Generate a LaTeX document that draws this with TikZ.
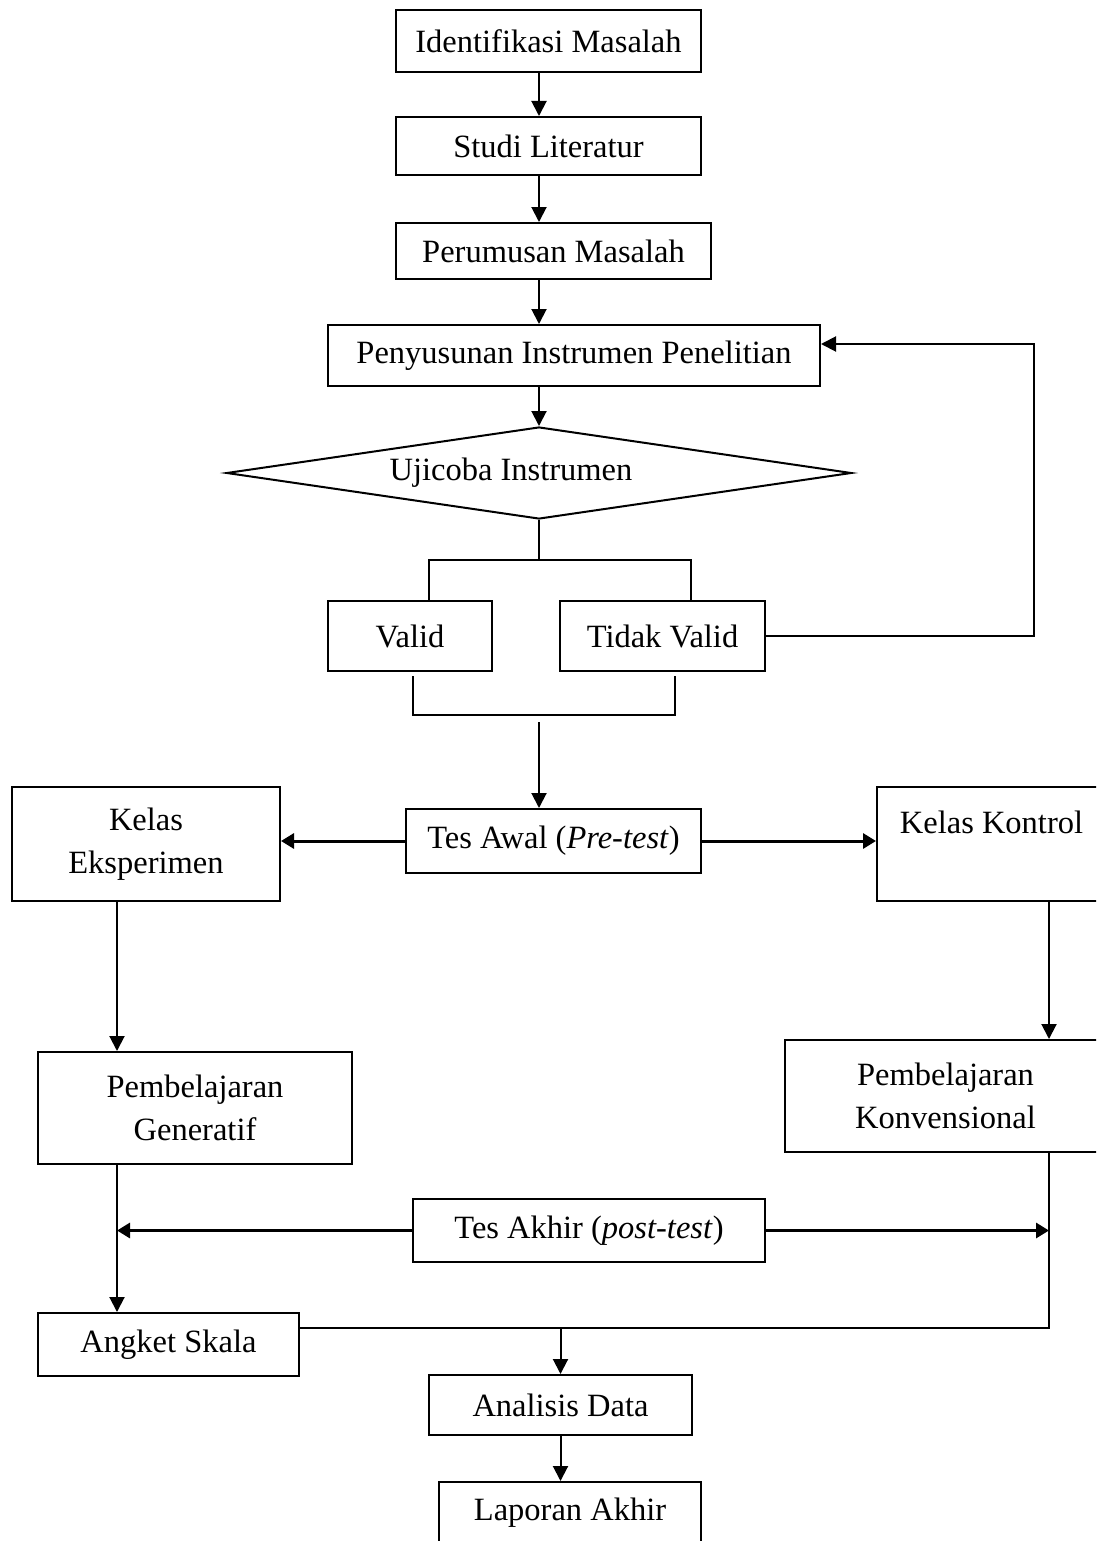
\documentclass[tikz,border=0pt]{standalone}
\usepackage{fontspec}
\setmainfont{Liberation Serif}
\usetikzlibrary{arrows.meta,shapes.geometric}
\begin{document}
\begin{tikzpicture}[x=1pt,y=-1pt,line width=2pt,
	box/.style={draw,rectangle,inner sep=0pt,align=center,font=\fontsize{32.5}{43}\selectfont},
	arr/.style={-{Triangle[length=15pt,width=15pt]}},
	arrw/.style={-{Triangle[length=13pt,width=15pt]},line width=3pt}]
\clip (0,0) rectangle (1096,1541);
\node[box,minimum width=305,minimum height=62] (idm) at (548.5,41) {Identifikasi Masalah};
\node[box,minimum width=305,minimum height=58] (stl) at (548.5,146) {Studi Literatur};
\node[box,minimum width=315,minimum height=56] (prm) at (553.5,251) {Perumusan Masalah};
\node[box,minimum width=492,minimum height=61] (pip) at (574,355.5) {Penyusunan Instrumen Penelitian};
\node[draw,diamond,inner sep=0pt,minimum width=625,minimum height=92] (uji) at (539,473) {};
\node[font=\fontsize{32.5}{43}\selectfont] (ujt) at (511,473) {Ujicoba Instrumen};
\node[box,minimum width=164,minimum height=70] (vld) at (410,636) {Valid};
\node[box,minimum width=205,minimum height=70] (tdv) at (662.5,636) {Tidak Valid};
\node[box,minimum width=295,minimum height=64] (tsa) at (553.5,841) {Tes Awal (\textit{Pre-test})};
\node[box,minimum width=268,minimum height=114] (kle) at (146,844) {Kelas\\Eksperimen};
\node[box,minimum width=229,minimum height=114] (klk) at (991.5,844) {Kelas Kontrol\\\mbox{}};
\node[box,minimum width=314,minimum height=112] (pbg) at (195,1108) {Pembelajaran\\Generatif};
\node[box,minimum width=321,minimum height=112] (pbk) at (945.5,1096) {Pembelajaran\\Konvensional};
\node[box,minimum width=352,minimum height=63] (tsk) at (589,1230.5) {Tes Akhir (\textit{post-test})};
\node[box,minimum width=261,minimum height=63] (ask) at (168.5,1344.5) {Angket Skala};
\node[box,minimum width=263,minimum height=60] (and) at (560.5,1405) {Analisis Data};
\node[box,minimum width=262,minimum height=62] (lpa) at (570,1513) {Laporan Akhir};
\coordinate (ax) at (539,0);
\coordinate (lx) at (117,0);
\coordinate (rx) at (1049,0);
\coordinate (b1) at (429,560);
\coordinate (b2) at (691,560);
\coordinate (c1) at (413,715);
\coordinate (c2) at (675,715);
\coordinate (c3) at (539,722);
\coordinate (fb) at (1034,344);
\coordinate (jn) at (1049,1328);
\draw[arr] (idm.south -| ax) -- (stl.north -| ax);
\draw[arr] (stl.south -| ax) -- (prm.north -| ax);
\draw[arr] (prm.south -| ax) -- (pip.north -| ax);
\draw[arr] (pip.south -| ax) -- (uji.north);
\draw (uji.south) -- (uji.south |- b1);
\draw (vld.north -| b1) |- (b2) -- (tdv.north -| b2);
\draw ([yshift=-4pt]vld.south -| c1) |- (c2) -- ([yshift=-4pt]tdv.south -| c2);
\draw[arr] (tdv.east) -| (fb) -- (pip.east |- fb);
\draw[arr] (c3) -- (tsa.north -| c3);
\draw[arrw] (tsa.west) -- (kle.east |- tsa.west);
\draw[arrw] (tsa.east) -- (klk.west |- tsa.east);
\draw[arr] (kle.south -| lx) -- (pbg.north -| lx);
\draw[arr] (klk.south -| rx) -- (pbk.north -| rx);
\draw[arr] (pbg.south -| lx) -- (ask.north -| lx);
\draw[arrw] (tsk.west) -- (lx |- tsk.west);
\draw[arrw] (tsk.east) -- (rx |- tsk.east);
\draw (pbk.south -| rx) |- (ask.east |- jn);
\draw[arr] (and.north |- jn) -- (and.north);
\draw[arr] (and.south) -- (and.south |- lpa.north);
\end{tikzpicture}
\end{document}
